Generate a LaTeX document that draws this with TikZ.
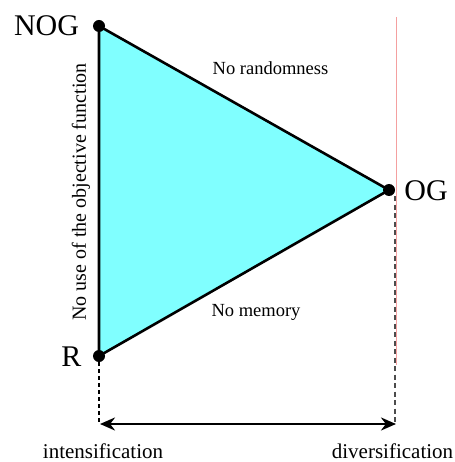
\documentclass[tikz,border=0pt]{standalone}
\usepackage{fontspec}
\setmainfont{Liberation Serif}
\usetikzlibrary{arrows.meta}
\definecolor{tri}{HTML}{80FFFF}
\definecolor{redline}{HTML}{F4A0A0}
\tikzset{
  vtx/.style={circle,fill=black,inner sep=0pt,minimum size=12pt},
  big/.style={font=\fontsize{30}{32}\selectfont,inner sep=0pt},
  lab/.style={font=\fontsize{18.5}{20}\selectfont,inner sep=0pt,anchor=base},
  vlab/.style={font=\fontsize{20}{22}\selectfont,inner sep=0pt,rotate=90},
  blab/.style={font=\fontsize{21}{23}\selectfont,inner sep=0pt,anchor=base},
  dshl/.style={dash pattern=on 4pt off 3pt,line width=1.1pt,black},
  dshr/.style={dash pattern=on 5pt off 3.5pt,line width=1.8pt,black!70},
}
\begin{document}
\begin{tikzpicture}[x=1pt,y=-1pt]
\useasboundingbox (0,0) rectangle (454,462);
\coordinate (A) at (99,26);
\coordinate (B) at (389,190);
\coordinate (C) at (99,356);
\coordinate (rt) at (396.7,17);
\coordinate (rb) at (396.7,365);
\coordinate (dl) at (99,424);
\coordinate (dr) at (395,424);
\coordinate (ogb) at (395,196);
\coordinate (al) at (100,424);
\coordinate (ar) at (396,424);
\draw[redline,line width=1pt] (rt) -- (rb);
\filldraw[fill=tri,draw=black,line width=2.6pt,line join=round] (A) -- (B) -- (C) -- cycle;
\node[vtx] (nA) at (A) {};
\node[vtx] (nB) at (B) {};
\node[vtx] (nC) at (C) {};
\draw[dshl] (nC) -- (dl);
\draw[dshr] (ogb) -- (dr);
\draw[{Stealth[length=15pt,width=13pt]}-{Stealth[length=15pt,width=13pt]},line width=2.6pt] (al) -- (ar);
\node[big] (tNOG) at (46.5,26) {NOG};
\node[big] (tOG) at (426,191) {OG};
\node[big] (tR) at (71.5,357) {R};
\node[lab] (t1) at (270.5,75) {No randomness};
\node[lab] (t2) at (256,316.5) {No memory};
\node[vlab] (t3) at (81,192) {No use of the objective function};
\node[blab] (t4) at (103,458) {intensification};
\node[blab] (t5) at (392.5,458) {diversification};
\end{tikzpicture}
\end{document}
